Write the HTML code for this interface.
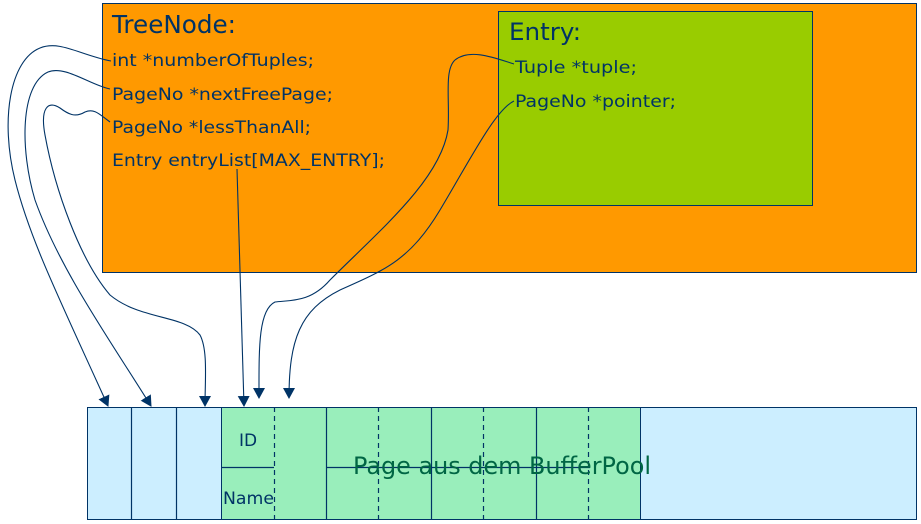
<!DOCTYPE html>
<html><head><meta charset="utf-8"><style>
body{margin:0;background:#fff;width:921px;height:524px;overflow:hidden}
svg{display:block}
text{font-family:"DejaVu Sans","Liberation Sans",sans-serif;fill:#003366}
</style></head><body>
<svg width="921" height="524" viewBox="0 0 921 524">
<defs><marker id="a" markerWidth="12" markerHeight="12" refX="10" refY="6" orient="auto" markerUnits="userSpaceOnUse" viewBox="0 0 12 12"><path d="M0,0 L11,6 L0,12 Z" fill="#003366"/></marker></defs>
<rect x="102.5" y="3.5" width="814" height="269" fill="#ff9900" stroke="#003366"/>
<rect x="498.5" y="11.5" width="314" height="194" fill="#99cc00" stroke="#003366"/>
<text x="112" y="33" font-size="25" textLength="124" lengthAdjust="spacingAndGlyphs">TreeNode:</text>
<g font-size="17">
<text x="112" y="66" textLength="202" lengthAdjust="spacingAndGlyphs">int *numberOfTuples;</text>
<text x="112" y="100" textLength="221" lengthAdjust="spacingAndGlyphs">PageNo *nextFreePage;</text>
<text x="112" y="133" textLength="199" lengthAdjust="spacingAndGlyphs">PageNo *lessThanAll;</text>
<text x="112" y="166" textLength="273" lengthAdjust="spacingAndGlyphs">Entry entryList[MAX_ENTRY];</text>
<text x="515" y="73" textLength="122" lengthAdjust="spacingAndGlyphs">Tuple *tuple;</text>
<text x="515" y="107" textLength="161" lengthAdjust="spacingAndGlyphs">PageNo *pointer;</text>
</g>
<text x="509" y="40" font-size="24" textLength="72" lengthAdjust="spacingAndGlyphs">Entry:</text>
<rect x="87.5" y="407.5" width="829" height="112" fill="#cceeff" stroke="#003366"/>
<rect x="221.5" y="407.5" width="419" height="112" fill="#99eebb" stroke="#003366"/>
<g stroke="#003366" stroke-width="1.2" fill="none">
<line x1="131.5" y1="407" x2="131.5" y2="520"/>
<line x1="176.5" y1="407" x2="176.5" y2="520"/>
<line x1="326.5" y1="407" x2="326.5" y2="520"/>
<line x1="431.5" y1="407" x2="431.5" y2="520"/>
<line x1="536.5" y1="407" x2="536.5" y2="520"/>
<line x1="221" y1="467.5" x2="274" y2="467.5"/>
<line x1="326" y1="467.5" x2="590" y2="467.5"/>
<g stroke-dasharray="5,4"><line x1="274.5" y1="407" x2="274.5" y2="520"/><line x1="378.5" y1="407" x2="378.5" y2="520"/><line x1="483.5" y1="407" x2="483.5" y2="520"/><line x1="588.5" y1="407" x2="588.5" y2="520"/></g>
</g>
<text x="239" y="446" font-size="17">ID</text>
<text x="223" y="504" font-size="17" textLength="51" lengthAdjust="spacingAndGlyphs">Name</text>
<text x="353" y="474" font-size="24" textLength="298" lengthAdjust="spacingAndGlyphs" style="fill:#006644">Page aus dem BufferPool</text>
<g stroke="#003366" stroke-width="1.1" fill="none" marker-end="url(#a)">
<path d="M111,61 C80,55 60,40 40,48 C10,60 0,120 15,180 C30,240 60,300 108,406"/>
<path d="M110,89 C90,85 65,65 48,72 C20,85 20,150 35,200 C60,270 110,340 151,406"/>
<path d="M110,122 C100,115 95,108 85,112 C75,118 68,114 60,108 C48,100 40,108 45,135 C55,190 80,260 110,295 C140,320 185,315 200,335 C208,350 205,380 205,406"/>
<path d="M237,169 L244,406"/>
<path d="M514,64 C495,58 470,48 455,60 C444,70 450,100 448,130 C440,180 380,230 330,280 C310,303 290,300 275,302 C258,310 259,350 259,398"/>
<path d="M514,101 C495,110 470,160 440,210 C410,260 385,270 340,290 C300,310 289,340 289,398"/>
</g>
</svg>
</body></html>
